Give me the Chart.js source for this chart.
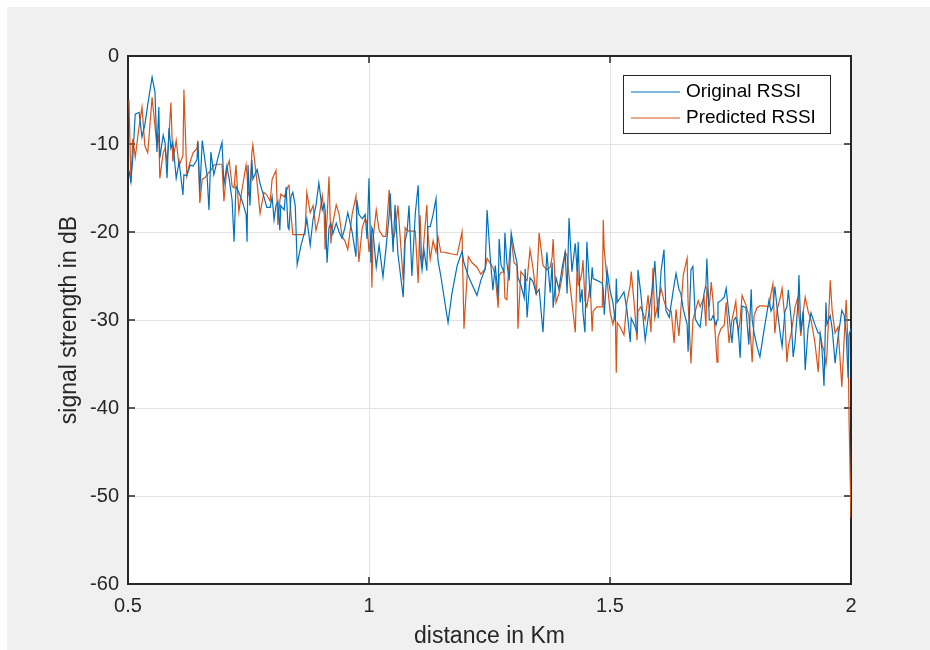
<!DOCTYPE html>
<html>
<head>
<meta charset="utf-8">
<title>RSSI vs distance</title>
<script src="https://cdn.jsdelivr.net/npm/chart.js@4.4.1/dist/chart.umd.min.js"></script>
<style>
    html, body { margin: 0; padding: 0; background: #ffffff; }
    #wrap { width: 930px; height: 650px; }
</style>
</head>
<body>
<div id="wrap"><canvas id="rssiChart" width="930" height="650"></canvas></div>
<script>
// distance samples (km)
const distanceKm = [
    0.502, 0.506, 0.510, 0.515, 0.523, 0.529, 0.535, 0.541, 0.550, 0.556, 0.560, 0.564, 0.566, 0.573, 0.577, 0.581,
    0.585, 0.589, 0.593, 0.600, 0.606, 0.614, 0.616, 0.622, 0.629, 0.635, 0.643, 0.645, 0.649, 0.654, 0.660, 0.664,
    0.668, 0.672, 0.678, 0.687, 0.695, 0.699, 0.705, 0.710, 0.716, 0.720, 0.724, 0.730, 0.737, 0.745, 0.747, 0.749,
    0.753, 0.757, 0.759, 0.768, 0.774, 0.782, 0.788, 0.795, 0.799, 0.803, 0.807,
    0.811, 0.815, 0.817, 0.824, 0.828, 0.832, 0.834, 0.838, 0.842, 0.847, 0.851, 0.859, 0.867, 0.871, 0.878, 0.884,
    0.890, 0.896, 0.903, 0.907, 0.909, 0.913, 0.917, 0.921, 0.925, 0.932, 0.938, 0.944, 0.950, 0.956, 0.965, 0.973,
    0.975, 0.979, 0.986, 0.992, 0.996, 1.000, 1.004, 1.006, 1.008, 1.015, 1.021, 1.029, 1.035, 1.042, 1.044, 1.050,
    1.054, 1.060, 1.071, 1.075, 1.079, 1.083, 1.089, 1.096, 1.102,
    1.106, 1.110, 1.114, 1.120, 1.122, 1.127, 1.133, 1.139, 1.143, 1.149, 1.156, 1.164, 1.172, 1.183, 1.193, 1.197,
    1.206, 1.214, 1.224, 1.232, 1.241, 1.245, 1.251, 1.257, 1.262, 1.268, 1.270, 1.274, 1.280, 1.282, 1.286, 1.291,
    1.295, 1.301, 1.307, 1.309, 1.315, 1.322, 1.324, 1.328, 1.334, 1.340, 1.347, 1.353, 1.361, 1.369, 1.376, 1.380,
    1.382, 1.388, 1.394, 1.401, 1.407,
    1.411, 1.415, 1.421, 1.428, 1.432, 1.434, 1.438, 1.442, 1.444, 1.448, 1.452, 1.459, 1.463, 1.465, 1.473, 1.484,
    1.486, 1.488, 1.494, 1.500, 1.506, 1.511, 1.513, 1.515, 1.521, 1.529, 1.535, 1.542, 1.544, 1.550, 1.556, 1.558,
    1.564, 1.573, 1.579, 1.585, 1.589, 1.593, 1.600, 1.606, 1.612, 1.616, 1.623, 1.627, 1.633, 1.637, 1.643, 1.647,
    1.652, 1.660, 1.662, 1.668, 1.672, 1.677, 1.683, 1.687, 1.695, 1.699, 1.701, 1.706,
    1.710, 1.714, 1.720, 1.722, 1.724, 1.730, 1.737, 1.741, 1.747, 1.753, 1.757, 1.761, 1.766, 1.770, 1.774, 1.782,
    1.788, 1.793, 1.795, 1.799, 1.805, 1.811, 1.820, 1.830, 1.834, 1.838, 1.842, 1.847, 1.853, 1.857, 1.863, 1.867,
    1.870, 1.876, 1.880, 1.884, 1.890, 1.892, 1.896, 1.901, 1.905, 1.911, 1.917, 1.925, 1.932, 1.936, 1.940, 1.944,
    1.948, 1.950, 1.957, 1.961, 1.967, 1.973, 1.981, 1.986, 1.990, 1.994, 1.996, 2.000
];

// measured RSSI (dB)
const originalRssi = [
    -13.0, -14.3, -11.5, -6.6, -6.4, -9.2, -7.8, -5.5, -2.4, -4.1, -10.9, -5.8, -11.6, -9.0, -9.9, -13.9,
    -8.2, -10.5, -9.8, -13.9, -12.0, -15.8, -13.5, -13.6, -12.4, -12.5, -11.8, -9.8, -15.5, -9.6, -12.0, -13.5,
    -17.5, -10.9, -13.5, -11.5, -9.8, -14.6, -12.5, -14.0, -16.4, -21.1, -14.8, -15.5, -16.5, -18.0, -21.1, -12.4,
    -17.0, -11.8, -14.0, -12.9, -14.5, -16.0, -17.2, -17.2, -16.0, -18.6, -17.0,
    -16.5, -19.8, -17.0, -17.5, -14.9, -19.5, -19.7, -16.0, -15.5, -17.0, -23.7, -21.5, -19.9, -18.5, -21.5, -18.5,
    -17.0, -14.4, -17.5, -16.8, -17.5, -23.5, -19.5, -19.0, -20.2, -19.0, -20.0, -20.7, -19.5, -17.8, -20.0, -22.8,
    -16.4, -18.0, -18.5, -18.0, -20.8, -13.9, -23.5, -19.5, -19.8, -24.0, -21.5, -25.1, -22.0, -18.0, -15.6, -22.3,
    -16.9, -22.5, -27.4, -21.0, -20.0, -17.0, -25.0, -17.9, -14.7,
    -22.5, -24.3, -22.0, -24.4, -19.4, -19.4, -18.0, -16.2, -23.2, -25.0, -27.5, -30.3, -27.0, -23.8, -22.2, -23.5,
    -25.0, -26.0, -27.2, -25.5, -24.2, -17.5, -22.5, -26.6, -23.8, -27.4, -20.8, -23.8, -24.5, -20.1, -23.5, -25.5,
    -20.1, -22.0, -23.5, -25.2, -26.0, -27.5, -24.2, -29.7, -25.2, -25.6, -27.0, -26.5, -31.4, -22.3, -26.9, -23.5,
    -28.6, -25.2, -26.5, -24.0, -22.3,
    -27.0, -18.4, -24.5, -21.3, -24.5, -21.1, -28.0, -26.5, -29.2, -31.4, -21.1, -27.5, -24.0, -25.3, -25.5, -25.8,
    -26.5, -29.4, -24.3, -26.6, -28.0, -30.2, -25.3, -28.0, -27.5, -26.8, -28.8, -32.5, -29.8, -30.5, -31.4, -24.3,
    -27.0, -32.3, -29.8, -27.5, -26.0, -23.3, -29.8, -24.4, -22.0, -28.9, -29.7, -28.2, -26.0, -24.7, -26.5, -27.0,
    -28.8, -30.5, -33.6, -24.3, -23.9, -29.9, -30.5, -30.8, -27.0, -26.0, -23.0, -30.0,
    -30.0, -29.5, -30.6, -30.0, -28.0, -27.8, -27.4, -26.4, -29.5, -32.6, -30.0, -29.7, -31.0, -34.3, -28.4, -28.6,
    -32.8, -26.5, -30.0, -31.5, -33.0, -34.2, -31.0, -27.7, -29.0, -28.5, -26.2, -28.8, -31.5, -33.0, -29.0, -28.5,
    -26.6, -30.0, -34.2, -32.5, -28.0, -24.9, -31.3, -29.0, -35.7, -31.0, -29.2, -30.5, -31.5, -31.5, -33.5, -37.5,
    -28.0, -30.5, -29.5, -31.0, -34.9, -32.0, -28.9, -29.5, -31.5, -36.6, -31.7, -31.0
];

// predicted RSSI (dB)
const predictedRssi = [
    -5.0, -14.4, -9.4, -11.5, -8.0, -5.8, -10.2, -11.0, -4.7, -8.0, -10.2, -9.0, -13.9, -11.0, -10.5, -12.0,
    -9.0, -5.3, -12.0, -9.6, -12.5, -11.3, -3.8, -13.6, -12.0, -11.0, -10.5, -9.6, -16.7, -14.0, -13.8, -13.5,
    -13.2, -13.0, -12.4, -12.3, -12.3, -16.5, -12.8, -11.9, -14.8, -15.0, -12.4, -17.7, -15.0, -12.4, -13.5, -15.8,
    -15.3, -11.0, -10.1, -14.5, -17.9, -15.5, -15.8, -16.5, -14.0, -13.5, -13.0,
    -19.2, -16.5, -15.7, -16.0, -15.5, -14.8, -14.6, -18.0, -20.3, -20.3, -20.3, -20.3, -20.3, -15.5, -17.8, -17.0,
    -19.8, -18.5, -15.9, -18.0, -22.0, -18.5, -13.7, -21.3, -19.0, -16.9, -18.0, -20.5, -21.0, -22.0, -18.0, -15.9,
    -19.0, -23.4, -19.5, -18.5, -19.0, -22.3, -20.5, -26.3, -21.0, -17.5, -19.8, -20.5, -20.5, -15.2, -17.5, -21.0,
    -20.0, -17.0, -25.5, -19.5, -19.8, -19.9, -19.9, -19.9, -25.8,
    -18.1, -24.0, -21.0, -16.9, -20.0, -23.1, -21.0, -22.3, -20.5, -22.3, -22.3, -22.4, -22.5, -22.6, -20.0, -31.0,
    -22.8, -23.5, -24.0, -24.8, -24.2, -23.0, -23.5, -24.0, -25.0, -28.6, -25.0, -24.6, -24.5, -27.5, -27.7, -23.0,
    -20.7, -23.5, -23.8, -31.0, -24.5, -25.0, -25.3, -25.5, -22.0, -24.0, -27.2, -20.1, -23.8, -24.3, -24.0, -22.8,
    -20.8, -28.0, -27.0, -25.0, -22.3,
    -22.7, -25.0, -28.0, -31.4, -23.5, -26.0, -25.5, -24.5, -23.2, -27.8, -28.5, -26.0, -31.3, -29.0, -28.5, -28.5,
    -18.6, -22.0, -25.5, -29.0, -30.5, -29.0, -36.0, -30.3, -30.8, -31.7, -28.0, -26.0, -24.5, -28.0, -32.3, -29.0,
    -28.5, -30.0, -27.2, -31.4, -24.1, -29.8, -28.0, -26.4, -27.8, -28.5, -29.0, -29.0, -32.6, -28.8, -31.8, -28.8,
    -24.9, -23.0, -28.0, -34.9, -30.0, -29.0, -27.8, -28.5, -27.4, -30.7, -26.2, -28.5,
    -25.7, -28.0, -33.0, -34.8, -32.0, -31.0, -30.6, -28.0, -32.6, -30.0, -29.0, -27.9, -31.5, -30.0, -27.2, -28.3,
    -29.5, -33.0, -34.8, -29.5, -28.6, -28.4, -28.4, -28.5, -27.0, -25.9, -31.5, -28.8, -27.5, -26.4, -30.0, -34.8,
    -33.0, -31.5, -30.0, -28.5, -27.4, -29.5, -31.8, -29.0, -27.4, -29.0, -30.0, -32.5, -35.9, -31.5, -32.8, -33.5,
    -35.1, -34.0, -25.5, -29.0, -31.5, -30.8, -37.6, -32.0, -27.7, -33.0, -41.4, -52.5
];

const xTicks = [0.5, 1, 1.5, 2];
const yTicks = [-60, -50, -40, -30, -20, -10, 0];

const seriesNames = ['Original RSSI', 'Predicted RSSI'];
const seriesColors = ['#0072BD', '#D95319'];

const FONT = "'Liberation Sans', Arial, Helvetica, sans-serif";
const AXIS_COLOR = '#262626';

// figure background (grey frame, white axes)
const backgroundPlugin = {
    id: 'figureBackground',
    beforeDraw(chart) {
        const ctx = chart.ctx;
        const a = chart.chartArea;
        ctx.save();
        ctx.fillStyle = '#ffffff';
        ctx.fillRect(0, 0, chart.width, chart.height);
        ctx.fillStyle = '#f0f0f0';
        ctx.fillRect(7, 7, chart.width - 7, chart.height - 7);
        ctx.fillStyle = '#ffffff';
        ctx.fillRect(a.left, a.top, a.right - a.left, a.bottom - a.top);
        ctx.restore();
    }
};

// axes box with inward ticks (under the lines), legend on top
const boxPlugin = {
    id: 'axesBox',
    beforeDatasetsDraw(chart) {
        const ctx = chart.ctx;
        const a = chart.chartArea;
        const xs = chart.scales.x;
        const ys = chart.scales.y;
        const tick = 7;

        ctx.save();
        ctx.strokeStyle = AXIS_COLOR;
        ctx.lineWidth = 1.5;
        ctx.beginPath();
        yTicks.forEach(v => {
            const py = ys.getPixelForValue(v);
            ctx.moveTo(a.left, py);
            ctx.lineTo(a.left + tick, py);
            ctx.moveTo(a.right, py);
            ctx.lineTo(a.right - tick, py);
        });
        xTicks.forEach(v => {
            const px = xs.getPixelForValue(v);
            ctx.moveTo(px, a.bottom);
            ctx.lineTo(px, a.bottom - tick);
            ctx.moveTo(px, a.top);
            ctx.lineTo(px, a.top + tick);
        });
        ctx.stroke();
        ctx.lineWidth = 2;
        ctx.strokeRect(a.left, a.top, a.right - a.left, a.bottom - a.top);
        ctx.restore();
    },
    afterDatasetsDraw(chart) {
        const ctx = chart.ctx;
        const lx = 623, ly = 75, lw = 207, lh = 58;

        ctx.save();
        ctx.fillStyle = '#ffffff';
        ctx.fillRect(lx, ly, lw, lh);
        ctx.lineWidth = 1;
        ctx.strokeStyle = AXIS_COLOR;
        ctx.strokeRect(lx + 0.5, ly + 0.5, lw, lh);
        ctx.font = '19px ' + FONT;
        ctx.textBaseline = 'middle';
        ctx.textAlign = 'left';
        chart.data.datasets.forEach((ds, i) => {
            const y = ly + 17 + i * 26;
            ctx.strokeStyle = ds.borderColor;
            ctx.lineWidth = 1.2;
            ctx.beginPath();
            ctx.moveTo(lx + 8, y);
            ctx.lineTo(lx + 57, y);
            ctx.stroke();
            ctx.fillStyle = '#000000';
            ctx.fillText(ds.label, lx + 63, y);
        });
        ctx.restore();
    }
};

function makeSeries(values) {
    return distanceKm.map((d, i) => ({ x: d, y: values[i] }));
}

const ctx = document.getElementById('rssiChart').getContext('2d');

const rssiChart = new Chart(ctx, {
    type: 'line',
    data: {
        datasets: [
            {
                label: seriesNames[0],
                data: makeSeries(originalRssi),
                borderColor: seriesColors[0],
                borderWidth: 1.2,
                pointRadius: 0,
                tension: 0,
                fill: false
            },
            {
                label: seriesNames[1],
                data: makeSeries(predictedRssi),
                borderColor: seriesColors[1],
                borderWidth: 1.2,
                pointRadius: 0,
                tension: 0,
                fill: false
            }
        ]
    },
    options: {
        responsive: false,
        animation: false,
        events: [],
        layout: {
            padding: { left: 0, right: 79, top: 56, bottom: 0 }
        },
        plugins: {
            legend: { display: false },
            tooltip: { enabled: false }
        },
        scales: {
            x: {
                type: 'linear',
                min: 0.5,
                max: 2,
                afterBuildTicks: function (scale) {
                    scale.ticks = xTicks.map(v => ({ value: v }));
                },
                afterFit: function (scale) {
                    scale.height = 66;
                },
                grid: {
                    color: '#e3e3e3',
                    lineWidth: 1,
                    drawTicks: false
                },
                border: { display: false },
                ticks: {
                    color: '#262626',
                    padding: 10,
                    maxRotation: 0,
                    font: { family: FONT, size: 20 },
                    callback: function (value) {
                        return String(value);
                    }
                },
                title: {
                    display: true,
                    text: 'distance in Km',
                    color: '#262626',
                    padding: { top: 0, bottom: 2 },
                    font: { family: FONT, size: 23, lineHeight: 1 }
                }
            },
            y: {
                type: 'linear',
                min: -60,
                max: 0,
                afterBuildTicks: function (scale) {
                    scale.ticks = yTicks.map(v => ({ value: v }));
                },
                afterFit: function (scale) {
                    scale.width = 128;
                },
                grid: {
                    color: '#e3e3e3',
                    lineWidth: 1,
                    drawTicks: false
                },
                border: { display: false },
                ticks: {
                    color: '#262626',
                    padding: 9,
                    font: { family: FONT, size: 20 }
                },
                title: {
                    display: true,
                    text: 'signal strength in dB',
                    color: '#262626',
                    padding: { top: 58, bottom: 0 },
                    font: { family: FONT, size: 23, lineHeight: 1 }
                }
            }
        }
    },
    plugins: [backgroundPlugin, boxPlugin]
});
</script>
</body>
</html>
